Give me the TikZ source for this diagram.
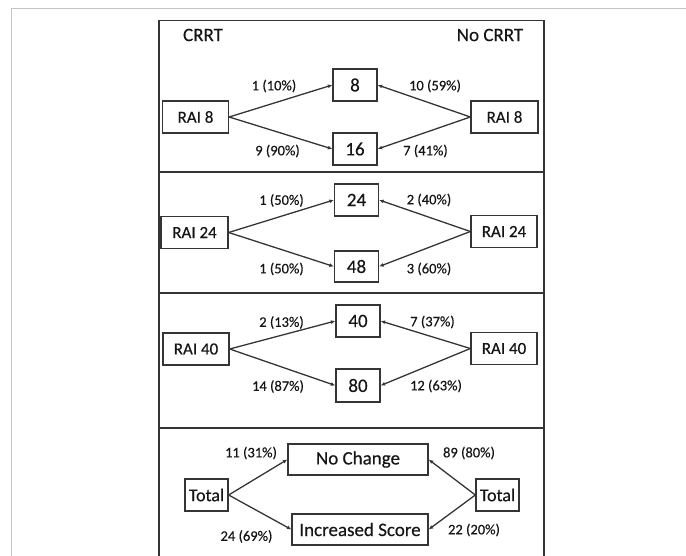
\documentclass[tikz,border=0pt]{standalone}
\usepackage{fontspec}
\setmainfont{Carlito}[FakeBold=0.35]
\usetikzlibrary{arrows.meta}
\definecolor{linec}{HTML}{353535}
\definecolor{txt}{HTML}{151515}
\definecolor{framec}{HTML}{C4C4C4}
\begin{document}
\begin{tikzpicture}[x=1pt,y=-1pt,
  box/.style={draw=linec, line width=1.3pt, inner sep=0pt, minimum height=32pt, text=txt},
  rai/.style={box, minimum width=66pt, font=\fontsize{17}{20}\selectfont},
  num/.style={box, minimum width=44pt, font=\fontsize{19}{22}\selectfont},
  wide/.style={box, minimum height=31pt, font=\fontsize{19}{22}\selectfont},
  tot/.style={box, minimum width=43pt, font=\fontsize{18}{21}\selectfont},
  lbl/.style={inner sep=0pt, text=txt, font=\fontsize{14.5}{17}\selectfont},
  hdr/.style={inner sep=0pt, text=txt, font=\fontsize{19}{22}\selectfont},
  conn/.style={draw=linec, line width=1.3pt, -{Latex[length=4.5pt,width=4pt]}},
  panel/.style={draw=linec, line width=1.3pt}]
\useasboundingbox (0,0) rectangle (686,556);
% page frame
\draw[framec, line width=1pt] (11,560) -- (11,9) -- (690,9);
% outer box and dividers
\draw[panel] (159,560) -- (159,20.5) -- (544,20.5) -- (544,560);
\draw[panel] (159,172) -- (544,172);
\draw[panel] (159,293) -- (544,293);
\draw[panel] (159,428) -- (544,428);
% headers
\node[hdr] (hL) at (203,35) {CRRT};
\node[hdr] (hR) at (490,35) {No CRRT};
% panel 1
\node[rai] (a1) at (195.5,117) {RAI 8};
\node[rai, minimum width=67pt] (a2) at (504.5,117) {RAI 8};
\node[num] (a3) at (355,85) {8};
\node[num] (a4) at (355,149) {16};
\draw[conn] (a1.east) -- (a3.west);
\draw[conn] (a1.east) -- (a4.west);
\draw[conn] (a2.west) -- (a3.east);
\draw[conn] (a2.west) -- (a4.east);
\node[lbl] (l1) at (274,86) {1 (10\%)};
\node[lbl] (l2) at (277.5,151) {9 (90\%)};
\node[lbl] (l3) at (435,86) {10 (59\%)};
\node[lbl] (l4) at (425.5,151) {7 (41\%)};
% panel 2
\node[rai, minimum width=67pt] (b1) at (194.5,232.5) {RAI 24};
\node[rai] (b2) at (504,231.5) {RAI 24};
\node[num] (b3) at (356.5,200) {24};
\node[num, minimum height=31pt] (b4) at (356.5,266.5) {48};
\draw[conn] (b1.east) -- (b3.west);
\draw[conn] (b1.east) -- (b4.west);
\draw[conn] (b2.west) -- (b3.east);
\draw[conn] (b2.west) -- (b4.east);
\node[lbl] (m1) at (281.5,200.5) {1 (50\%)};
\node[lbl] (m2) at (281.5,269) {1 (50\%)};
\node[lbl] (m3) at (429,200) {2 (40\%)};
\node[lbl] (m4) at (429,269) {3 (60\%)};
% panel 3
\node[rai] (c1) at (196,349) {RAI 40};
\node[rai] (c2) at (504,348.5) {RAI 40};
\node[num] (c3) at (358,321) {40};
\node[num, minimum height=33pt] (c4) at (358,385.5) {80};
\draw[conn] (c1.east) -- (c3.west);
\draw[conn] (c1.east) -- (c4.west);
\draw[conn] (c2.west) -- (c3.east);
\draw[conn] (c2.west) -- (c4.east);
\node[lbl] (n1) at (281.5,322.5) {2 (13\%)};
\node[lbl] (n2) at (278,386.5) {14 (87\%)};
\node[lbl] (n3) at (432.5,322) {7 (37\%)};
\node[lbl] (n4) at (436,386) {12 (63\%)};
% panel 4
\node[tot] (d1) at (206.5,495) {Total};
\node[tot] (d2) at (497.5,495) {Total};
\node[wide, minimum width=140pt] (d3) at (358,459.5) {No Change};
\node[wide, minimum width=136pt] (d4) at (360,529.5) {Increased Score};
\draw[conn] (d1.east) -- (d3.west);
\draw[conn] (d1.east) -- (d4.west);
\draw[conn] (d2.west) -- (d3.east);
\draw[conn] (d2.west) -- (d4.east);
\node[lbl] (o1) at (251,453) {11 (31\%)};
\node[lbl] (o2) at (246.5,536.5) {24 (69\%)};
\node[lbl] (o3) at (469,453) {89 (80\%)};
\node[lbl] (o4) at (474,530) {22 (20\%)};
\end{tikzpicture}
\end{document}
